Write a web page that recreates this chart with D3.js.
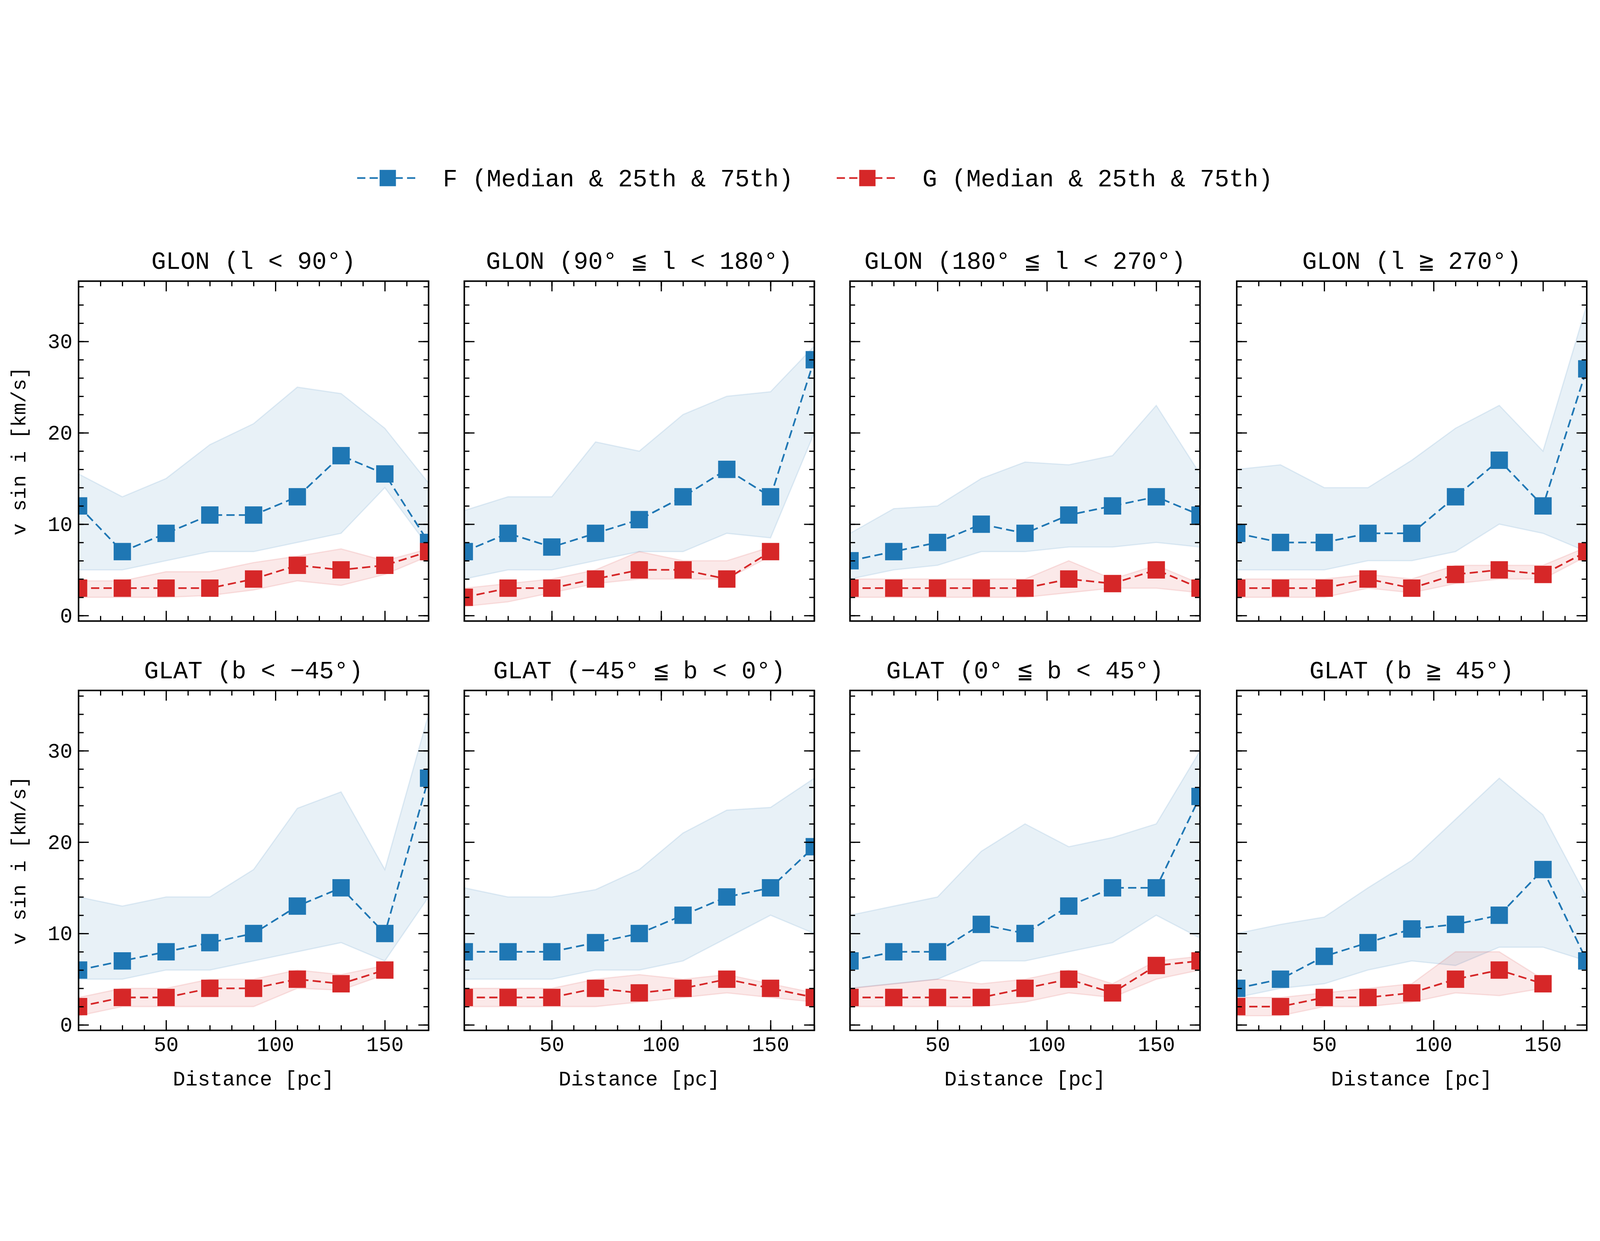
<!DOCTYPE html>
<html><head><meta charset="utf-8">
<script src="https://cdn.jsdelivr.net/npm/d3@7"></script>
<style>html,body{margin:0;padding:0;background:#fff;overflow:hidden}svg{display:block;width:100vw;height:100vh}text{font-family:"Liberation Mono","DejaVu Sans Mono",monospace;fill:#000}</style>
</head><body><svg id="c" viewBox="0 0 5259 3176" preserveAspectRatio="xMidYMid meet"></svg>
<script>
// distance bins
var dist = [10, 30, 50, 70, 90, 110, 130, 150, 170];
var titles = ["GLON (l < 90°)", "GLON (90° ≦ l < 180°)", "GLON (180° ≦ l < 270°)", "GLON (l ≧ 270°)",
  "GLAT (b < −45°)", "GLAT (−45° ≦ b < 0°)", "GLAT (0° ≦ b < 45°)", "GLAT (b ≧ 45°)"];

// F medians / 25th / 75th per panel
var fMed = [
  [12, 7, 9, 11, 11, 13, 17.5, 15.5, 8],
  [7, 9, 7.5, 9, 10.5, 13, 16, 13, 28],
  [6, 7, 8, 10, 9, 11, 12, 13, 11],
  [9, 8, 8, 9, 9, 13, 17, 12, 27],
  [6, 7, 8, 9, 10, 13, 15, 10, 27],
  [8, 8, 8, 9, 10, 12, 14, 15, 19.5],
  [7, 8, 8, 11, 10, 13, 15, 15, 25],
  [4, 5, 7.5, 9, 10.5, 11, 12, 17, 7]];
var fLo = [
  [5, 5, 6, 7, 7, 8, 9, 14, 7.5],
  [4, 5, 5, 6, 7, 7, 9, 8.5, 20],
  [4, 5, 5.5, 7, 7, 7.5, 7.5, 8, 7.5],
  [5, 5, 5, 6, 6, 7, 10, 9, 7],
  [5, 5, 6, 6, 7, 8, 9, 7, 14],
  [5, 5, 5, 6, 6, 7, 9.5, 12, 10],
  [4, 4.5, 5, 7, 7, 8, 9, 12, 9.5],
  [3, 4, 4.5, 6, 7, 6.5, 8.5, 8.5, 7]];
var fHi = [
  [15.5, 13, 15, 18.7, 21, 25, 24.3, 20.5, 14.5],
  [11.5, 13, 13, 19, 18, 22, 24, 24.5, 29.5],
  [9, 11.7, 12, 15, 16.8, 16.5, 17.5, 23, 15.5],
  [16, 16.5, 14, 14, 17, 20.5, 23, 18, 34],
  [14, 13, 14, 14, 17, 23.7, 25.5, 17, 34],
  [15, 14, 14, 14.8, 17, 21, 23.5, 23.8, 27],
  [12, 13, 14, 19, 22, 19.5, 20.5, 22, 30],
  [10, 11, 11.8, 15, 18, 22.5, 27, 23, 14]];

// G medians / 25th / 75th per panel (null = empty bin)
var gMed = [
  [3, 3, 3, 3, 4, 5.5, 5, 5.5, 7],
  [2, 3, 3, 4, 5, 5, 4, 7, null],
  [3, 3, 3, 3, 3, 4, 3.5, 5, 3],
  [3, 3, 3, 4, 3, 4.5, 5, 4.5, 7],
  [2, 3, 3, 4, 4, 5, 4.5, 6, null],
  [3, 3, 3, 4, 3.5, 4, 5, 4, 3],
  [3, 3, 3, 3, 4, 5, 3.5, 6.5, 7],
  [2, 2, 3, 3, 3.5, 5, 6, 4.5, null]];
var gLo = [
  [2, 2, 2, 2.2, 2.8, 3.8, 3.3, 4.5, 6.5],
  [1, 1.5, 2.5, 3.5, 4, 4, 4, 6.5, null],
  [2, 2, 2, 2, 2, 2.5, 3, 3, 2.5],
  [2, 2, 2, 3, 2.5, 3.5, 4, 4, 6.5],
  [1, 2, 2, 2, 2, 4, 3.8, 5.5, null],
  [2, 2, 2, 2, 2.5, 3, 3.5, 3, 2.5],
  [2, 2, 2, 2, 2.5, 3.5, 3, 5, 6],
  [1, 1, 2, 2, 2.5, 3.5, 3.2, 4, null]];
var gHi = [
  [3.8, 3.8, 4.8, 4.8, 5.8, 6.5, 7.3, 6, 7.3],
  [3, 3.5, 4, 5, 7, 6, 6, 7.5, null],
  [4, 4, 4, 4, 4, 6, 4, 5.5, 3.5],
  [4, 4, 4, 4.5, 4, 5.5, 5.5, 5.5, 7.5],
  [3, 4, 4, 5, 5, 6, 5.5, 6.5, null],
  [4, 4, 4, 5, 5.5, 5, 5.5, 4.5, 3.5],
  [4, 4.5, 5, 4.5, 5, 6, 4.5, 7, 7.5],
  [3, 3, 3.5, 4, 4.5, 8, 8, 5, null]];

var s = 3.354;
var blue = "#1f77b4", red = "#d62728";
var svg = d3.select("#c");
var colX = [77, 455, 833, 1212].map(v => v * s);
var rowY = [141, 542].map(v => v * s);
var pw = 343 * s, ph = 333 * s;
var x = d3.scaleLinear().domain([10, 170]).range([0, pw]);
var y = d3.scaleLinear().domain([-0.6, 36.6]).range([ph, 0]);
var dash = "27,14";

function series(g, id, med, lo, hi, col) {
  var pts = dist.map((d, i) => ({d: d, m: med[i], l: lo[i], h: hi[i]})).filter(p => p.m != null);
  g.append("path").datum(pts)
    .attr("d", d3.area().x(p => x(p.d)).y0(p => y(p.l)).y1(p => y(p.h)))
    .attr("fill", col).attr("fill-opacity", 0.1)
    .attr("stroke", col).attr("stroke-opacity", 0.12).attr("stroke-width", 4)
    .attr("clip-path", "url(#" + id + ")");
  g.append("path").datum(pts)
    .attr("d", d3.line().x(p => x(p.d)).y(p => y(p.m)))
    .attr("fill", "none").attr("stroke", col).attr("stroke-width", 5.5)
    .attr("stroke-dasharray", dash).attr("clip-path", "url(#" + id + ")");
  var m = 17 * s;
  g.selectAll(null).data(pts).enter().append("rect")
    .attr("x", p => x(p.d) - m / 2).attr("y", p => y(p.m) - m / 2)
    .attr("width", m).attr("height", m).attr("fill", col)
    .attr("clip-path", "url(#" + id + ")");
}

titles.forEach((t, k) => {
  var r = Math.floor(k / 4), c = k % 4;
  var g = svg.append("g").attr("transform", "translate(" + colX[c] + "," + rowY[r] + ")");
  var id = "clip" + k;
  g.append("clipPath").attr("id", id).append("rect").attr("width", pw).attr("height", ph);

  series(g, id, fMed[k], fLo[k], fHi[k], blue);
  series(g, id, gMed[k], gLo[k], gHi[k], red);

  var maj = 10 * s, mn = 5 * s;
  var ax = [
    [d3.axisBottom(x).tickValues([50, 100, 150]).tickSize(-maj), "translate(0," + ph + ")", r === 1],
    [d3.axisBottom(x).tickValues(d3.range(10, 171, 10)).tickSize(-mn), "translate(0," + ph + ")", false],
    [d3.axisTop(x).tickValues([50, 100, 150]).tickSize(-maj), null, false],
    [d3.axisTop(x).tickValues(d3.range(10, 171, 10)).tickSize(-mn), null, false],
    [d3.axisLeft(y).tickValues([0, 10, 20, 30]).tickSize(-maj), null, c === 0],
    [d3.axisLeft(y).tickValues(d3.range(0, 37, 2)).tickSize(-mn), null, false],
    [d3.axisRight(y).tickValues([0, 10, 20, 30]).tickSize(-maj), "translate(" + pw + ",0)", false],
    [d3.axisRight(y).tickValues(d3.range(0, 37, 2)).tickSize(-mn), "translate(" + pw + ",0)", false]];
  ax.forEach(a => {
    var ag = g.append("g");
    if (a[1]) ag.attr("transform", a[1]);
    ag.call(a[0].tickPadding(a[2] ? 6 * s : 0));
    ag.select(".domain").remove();
    ag.selectAll("line").attr("stroke", "#000").attr("stroke-width", 4);
    if (a[2]) ag.selectAll("text").attr("font-size", 68).attr("font-family", "Liberation Mono");
    else ag.selectAll("text").remove();
  });
  g.append("rect").attr("width", pw).attr("height", ph).attr("fill", "none")
    .attr("stroke", "#000").attr("stroke-width", 5);

  g.append("text").attr("x", pw / 2).attr("y", -12 * s).attr("text-anchor", "middle")
    .attr("font-size", 80).text(t);
  if (c === 0) g.append("text").attr("transform", "translate(" + (-52 * s) + "," + (ph / 2) + ") rotate(-90)")
    .attr("text-anchor", "middle").attr("font-size", 66).text("v sin i [km/s]");
  if (r === 1) g.append("text").attr("x", pw / 2).attr("y", ph + 54 * s).attr("text-anchor", "middle")
    .attr("font-size", 68).text("Distance [pc]");
});

// legend
var leg = [["F (Median & 25th & 75th)", blue, 350], ["G (Median & 25th & 75th)", red, 820]];
leg.forEach(l => {
  var lg = svg.append("g").attr("transform", "translate(" + l[2] * s + "," + 40 * s + ")");
  lg.append("line").attr("x1", 0).attr("x2", 60 * s).attr("stroke", l[1]).attr("stroke-width", 5.5)
    .attr("stroke-dasharray", dash);
  lg.append("rect").attr("x", 30 * s - 8 * s).attr("y", -8 * s).attr("width", 16 * s).attr("height", 16 * s).attr("fill", l[1]);
  lg.append("text").attr("x", 84 * s).attr("y", 0).attr("dy", "0.35em").attr("font-size", 80).text(l[0]);
});
</script></body></html>
